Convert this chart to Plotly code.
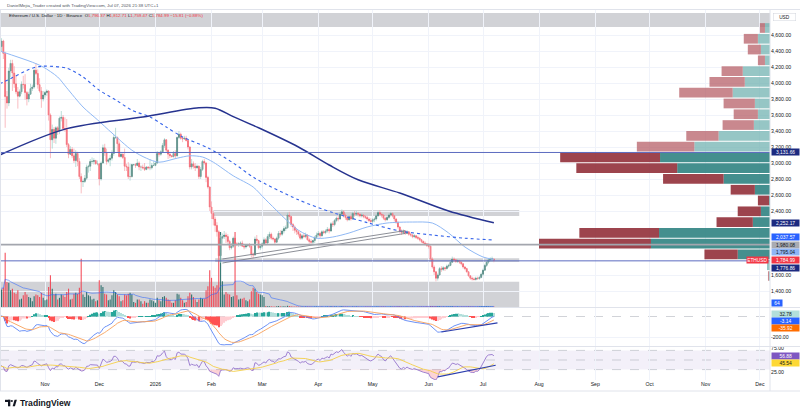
import numpy as np
import pandas as pd
import plotly.graph_objects as go

# ------------------------------------------------------------------ data
first_open = 4690.0
last_open = 1796.37

closes = [
    4455, 4525, 4370, 3830, 3750, 4150, 4245, 4125, 3990, 3890, 3835, 3890, 3985, 3980, 3880, 3800, 3860, 3930, 3950, 4160, 4120, 3980, 3900, 3800, 3850,
    3880, 3900, 3600, 3290, 3420, 3310, 3440, 3400, 3560, 3570, 3430, 3420, 3230, 3110, 3170, 3090, 3030, 3120, 3020, 2830, 2765, 2770, 2810, 2950, 2960, 3020, 3020, 3030, 2990, 2990,
    2800, 3000, 3190, 3130, 3020, 3040, 3060, 3120, 3320, 3320, 3240, 3080, 3110, 3070, 2960, 2950, 2830, 2830, 2980, 2980, 2970, 3000, 2950, 2950, 2940, 2920, 2950, 2940, 2940, 2970, 2970,
    3000, 3120, 3110, 3140, 3220, 3290, 3160, 3110, 3090, 3080, 3120, 3090, 3320, 3360, 3310, 3300, 3310, 3280, 3200, 2950, 2990, 2960, 2940, 2960, 2830, 2920, 3020, 3000, 2820, 2700, 2450,
    2370, 2300, 2220, 2140, 1840, 2060, 2080, 2100, 2080, 2020, 1940, 1960, 2060, 1990, 1980, 1990, 2000, 1960, 1950, 1970, 1980, 1960, 1860, 1850, 2050, 2030, 1940, 1960,
    1990, 2040, 2000, 2080, 2110, 2060, 2050, 2010, 2060, 2120, 2110, 2150, 2180, 2190, 2350, 2330, 2230, 2200, 2160, 2140, 2110, 2060, 2090, 2080, 2100, 2040, 2020, 2010, 2030, 2070, 2100,
    2120, 2090, 2140, 2130, 2150, 2170, 2150, 2240, 2230, 2280, 2310, 2300, 2360, 2390, 2350, 2320, 2290, 2330, 2300, 2370, 2360, 2370, 2360, 2340, 2350, 2330, 2320, 2300, 2280, 2270,
    2290, 2300, 2340, 2380, 2360, 2350, 2310, 2290, 2320, 2350, 2370, 2340, 2300, 2260, 2200, 2150, 2130, 2150, 2120, 2140, 2110, 2100, 2080, 2090, 2070, 2060, 2040, 2020, 2000, 1990, 1970,
    1960, 1800, 1700, 1640, 1560, 1600, 1680, 1670, 1690, 1680, 1710, 1720, 1760, 1800, 1790, 1770, 1780, 1760, 1740, 1700, 1680, 1640, 1590, 1560, 1550, 1545, 1560, 1555, 1570, 1610,
    1660, 1720, 1760, 1790, 1800, 1800.8, 1784.99,
]
highs = [
    4755, 4560, 4540, 4390, 3900, 4190, 4290, 4290, 4210, 4090, 3950, 3920, 4020, 4090, 4110, 3900, 3890, 3990, 3980, 4170, 4250, 4170, 4060, 3950, 3900,
    3900, 3920, 3910, 3620, 3480, 3450, 3460, 3460, 3580, 3650, 3600, 3570, 3550, 3250, 3210, 3200, 3180, 3160, 3140, 3060, 2870, 2790, 2850, 2980, 2980, 3050, 3070, 3060, 3040, 3030,
    3000, 3020, 3230, 3240, 3180, 3060, 3100, 3160, 3350, 3440, 3330, 3270, 3120, 3120, 3180, 2990, 3010, 2990, 2990, 2990, 3000, 3050, 3020, 2970, 2980, 3000, 2960, 2960, 3050, 3000, 3020,
    3010, 3150, 3140, 3160, 3250, 3310, 3300, 3170, 3140, 3100, 3150, 3160, 3330, 3400, 3380, 3330, 3340, 3340, 3280, 3210, 3050, 3020, 3000, 2980, 2970, 2950, 3040, 3050, 3010, 2840, 2710,
    2520, 2400, 2330, 2260, 2160, 2100, 2120, 2150, 2130, 2110, 2040, 2000, 2080, 2090, 2010, 2010, 2020, 2030, 1990, 1990, 1990, 2000, 1970, 1880, 2080, 2100, 2040, 1980,
    2010, 2070, 2060, 2110, 2140, 2130, 2080, 2060, 2080, 2150, 2160, 2170, 2210, 2220, 2380, 2390, 2340, 2250, 2220, 2180, 2160, 2130, 2110, 2120, 2130, 2110, 2060, 2050, 2040, 2090, 2130,
    2150, 2140, 2160, 2160, 2170, 2200, 2190, 2260, 2270, 2300, 2330, 2340, 2390, 2420, 2410, 2370, 2340, 2350, 2350, 2390, 2400, 2400, 2390, 2370, 2370, 2360, 2350, 2340, 2320, 2310,
    2310, 2320, 2360, 2400, 2410, 2380, 2360, 2330, 2340, 2370, 2390, 2380, 2350, 2310, 2270, 2210, 2170, 2170, 2160, 2160, 2150, 2130, 2110, 2110, 2100, 2090, 2070, 2050, 2030, 2020, 2000,
    2000, 1970, 1820, 1720, 1650, 1620, 1700, 1710, 1710, 1700, 1730, 1740, 1790, 1830, 1820, 1800, 1800, 1790, 1770, 1750, 1710, 1690, 1650, 1600, 1580, 1570, 1580, 1580, 1590, 1630,
    1680, 1740, 1780, 1810, 1820, 1830, 1812.71,
]
lows = [
    4450, 4400, 4300, 3440, 3680, 3710, 4070, 3900, 3940, 3860, 3680, 3820, 3860, 3930, 3790, 3720, 3760, 3850, 3900, 3930, 4100, 3930, 3880, 3690, 3770,
    3820, 3840, 3530, 3060, 3180, 3250, 3240, 3350, 3360, 3520, 3420, 3390, 3200, 3060, 3110, 3060, 3000, 2950, 2960, 2800, 2620, 2700, 2750, 2790, 2880, 2900, 2990, 2980, 2980, 2970,
    2720, 2780, 2990, 3090, 2980, 3000, 2960, 3030, 3090, 3300, 3140, 3070, 3070, 3050, 2900, 2900, 2800, 2780, 2820, 2960, 2940, 2960, 2910, 2900, 2920, 2900, 2910, 2920, 2910, 2920, 2960,
    2960, 2990, 3080, 3090, 3130, 3190, 3130, 3050, 3060, 3070, 3070, 3060, 3080, 3300, 3290, 3260, 3290, 3270, 3170, 2920, 2920, 2930, 2900, 2930, 2800, 2800, 2900, 2980, 2760, 2680, 2400,
    2300, 2220, 2140, 2080, 1780, 1750, 1990, 2050, 2000, 1990, 1910, 1920, 1940, 1960, 1960, 1950, 1960, 1950, 1920, 1930, 1950, 1940, 1820, 1810, 1840, 2000, 1920, 1910,
    1930, 1970, 1970, 1990, 2050, 2040, 2030, 1990, 2000, 2040, 2080, 2090, 2120, 2150, 2180, 2290, 2200, 2150, 2120, 2100, 2080, 2040, 2040, 2060, 2060, 2030, 1990, 1990, 1990, 2000, 2050,
    2080, 2060, 2080, 2110, 2110, 2130, 2120, 2140, 2200, 2210, 2260, 2270, 2290, 2340, 2320, 2290, 2270, 2280, 2280, 2290, 2330, 2340, 2330, 2320, 2320, 2310, 2300, 2280, 2260, 2250,
    2250, 2260, 2280, 2330, 2340, 2320, 2290, 2270, 2280, 2300, 2330, 2320, 2270, 2240, 2180, 2120, 2100, 2110, 2100, 2110, 2090, 2080, 2060, 2060, 2050, 2040, 2020, 2000, 1980, 1970, 1950,
    1930, 1780, 1680, 1600, 1520, 1530, 1590, 1640, 1650, 1650, 1670, 1690, 1710, 1750, 1760, 1750, 1750, 1740, 1720, 1680, 1660, 1630, 1580, 1540, 1530, 1530, 1530, 1540, 1540, 1560,
    1590, 1650, 1700, 1740, 1770, 1770, 1759.47,
]
volumes = [
    2400, 2100, 2300, 6500, 3000, 2900, 2000, 2200, 1700, 1600, 2000, 900, 1000, 1400, 1800, 1500, 1200, 1100, 700, 1300, 1500, 1400, 1200, 1700, 1100,
    800, 900, 2400, 3800, 2200, 1500, 1600, 900, 1100, 1500, 1400, 1200, 1800, 2200, 900, 1000, 1600, 1700, 1600, 2300, 5800, 1500, 1200, 1800, 1400, 1300, 900, 1000, 700, 800,
    3200, 2600, 2400, 1600, 1500, 800, 900, 1400, 2000, 1800, 1500, 1300, 700, 800, 1500, 1400, 1600, 1700, 1500, 600, 500, 900, 900, 700, 400, 700, 500, 500, 900, 800, 700,
    500, 1100, 800, 700, 1200, 1300, 1100, 900, 800, 500, 500, 800, 1600, 1500, 1100, 800, 500, 600, 1300, 1700, 1500, 1200, 900, 600, 900, 1100, 1000, 1000, 2000, 2500, 4400,
    3500, 2500, 2300, 2600, 9000, 9000, 3100, 1500, 1800, 1600, 1500, 1200, 1300, 9000, 1400, 900, 1000, 1000, 1100, 800, 700, 900, 1900, 2300, 2200, 1800, 1600, 1500,
    1400, 1200, 110, 90, 80, 100, 60, 50, 90, 120, 80, 70, 90, 60, 150, 110, 80, 70, 60, 50, 60, 70, 50, 60, 50, 70, 60, 50, 40, 50, 60,
    60, 50, 60, 40, 40, 60, 50, 80, 70, 60, 50, 40, 70, 80, 60, 50, 50, 40, 40, 60, 50, 60, 50, 40, 40, 40, 50, 50, 60, 50,
    50, 40, 60, 70, 60, 50, 60, 50, 40, 40, 50, 50, 60, 70, 90, 80, 60, 40, 50, 50, 50, 40, 50, 40, 40, 50, 60, 60, 70, 60, 80,
    70, 120, 110, 100, 130, 100, 90, 70, 60, 60, 60, 50, 70, 80, 60, 50, 50, 40, 50, 60, 50, 70, 80, 70, 60, 50, 40, 50, 60, 80,
    90, 80, 80, 70, 50, 60, 64,
]

ma_fast_dates = ["2025-10-07", "2025-10-25", "2025-10-31", "2025-11-08", "2025-11-13", "2025-11-22", "2025-11-30", "2025-12-08",
                 "2025-12-19", "2025-12-27", "2026-01-03", "2026-01-13", "2026-01-20", "2026-01-27", "2026-02-02", "2026-02-13",
                 "2026-02-24", "2026-03-03", "2026-03-21", "2026-03-31", "2026-04-09", "2026-04-18", "2026-04-28", "2026-05-09",
                 "2026-05-23", "2026-06-03", "2026-06-12", "2026-06-21", "2026-07-01", "2026-07-07"]
ma_fast_vals = [4400, 4260, 4200, 4075, 3940, 3700, 3540, 3375, 3160, 3060, 3010, 3060, 3090, 3075, 3010, 2840,
                2700, 2540, 2160, 2060, 2075, 2125, 2200, 2250, 2262, 2250, 2125, 1950, 1825, 1795.04]

ma_mid_dates = ["2025-10-07", "2025-10-09", "2025-10-25", "2025-10-31", "2025-11-13", "2025-11-22", "2025-12-01", "2025-12-10",
                "2025-12-19", "2025-12-29", "2026-01-07", "2026-01-16", "2026-01-30", "2026-02-13", "2026-02-25", "2026-03-21",
                "2026-04-09", "2026-04-28", "2026-05-16", "2026-06-03", "2026-06-21", "2026-07-07"]
ma_mid_vals = [3990, 4010, 4185, 4210, 4185, 4075, 3910, 3790, 3660, 3575, 3450, 3325, 3190, 3000, 2810, 2540,
               2380, 2255, 2150, 2100, 2060, 2037.57]

ma_slow_dates = ["2025-10-07", "2025-11-13", "2025-12-25", "2026-01-25", "2026-02-03", "2026-02-13", "2026-02-27",
                 "2026-03-21", "2026-04-07", "2026-04-23", "2026-05-16", "2026-06-12", "2026-07-07"]
ma_slow_vals = [3100, 3430, 3575, 3690, 3685, 3580, 3440, 3200, 2975, 2790, 2625, 2400, 2252.17]

# horizontal levels
level_blue_top = 3131.66
level_gray = 1980.08
level_blue_low = 1776.86

# zones (price boxes): (start, end, low, high)
zones = [
    ("2025-10-01", "2026-12-31", 4700, 4875),
    ("2026-02-02", "2026-07-21", 2337, 2412),
    ("2026-02-03", "2026-07-21", 1762, 1810),
    ("2025-10-01", "2026-07-21", 1100, 1516),
]
# wedge lines (date0, price0, date1, price1)
wedge = [("2026-02-07", 1750, "2026-05-19", 2120), ("2026-02-07", 1800, "2026-05-19", 2155)]
# divergence lines
macd_div = (["2026-06-08", "2026-07-09"], [-151, -63])
rsi_div = (["2026-06-06", "2026-07-08"], [15, 39])

# visible-range volume profile, rows top -> bottom (24 rows)
vp_down = [5, 14, 13, 7, 21, 35, 53, 31, 24, 31, 32, 57, 99, 100, 60, 24, 11, 23, 36, 79, 111, 33, 0, 1]
vp_up = [5, 12, 9, 5, 27, 25, 37, 15, 12, 16, 51, 75, 109, 92, 46, 15, 1, 9, 17, 110, 118, 32, 3, 1]
vp_in_value_area = [0] * 12 + [1] * 10 + [0] * 2

price_ticks = [1400, 1600, 2400, 2600, 2800, 3000, 3200, 3400, 3600, 3800, 4000, 4200, 4400, 4600]
month_ticks = ["2025-11-01", "2025-12-01", "2026-01-01", "2026-02-01", "2026-03-01", "2026-04-01", "2026-05-01",
               "2026-06-01", "2026-07-01", "2026-08-01", "2026-09-01", "2026-10-01", "2026-11-01", "2026-12-01"]
month_labels = ["Nov", "Dec", "2026", "Feb", "Mar", "Apr", "May", "Jun", "Jul", "Aug", "Sep", "Oct", "Nov", "Dec"]

last_macd, last_signal, last_hist = -3.14, -35.92, 32.78
last_rsi, last_rsi_ma = 56.88, 45.54
last_vol_label = 64

# ------------------------------------------------------------------ derived
assert len(closes) == len(highs) == len(lows) == len(volumes) == 274
dates = pd.date_range("2025-10-07", periods=len(closes), freq="D")
opens = [first_open] + closes[:-1]
opens[-1] = last_open
up = [c >= o for o, c in zip(opens, closes)]

c = pd.Series(closes, dtype=float)
macd = c.ewm(span=12, adjust=False).mean() - c.ewm(span=26, adjust=False).mean()
signal = macd.ewm(span=9, adjust=False).mean()
hist = macd - signal

d = c.diff().fillna(0).values
g = np.clip(d, 0, None)
l = np.clip(-d, 0, None)
ag, al = g[1:15].mean(), l[1:15].mean()
rsi = []
for i in range(len(d)):
    if i > 0:
        ag = (ag * 13 + g[i]) / 14
        al = (al * 13 + l[i]) / 14
    rsi.append(100 - 100 / (1 + ag / al) if al > 0 else 100)
rsi = pd.Series(rsi)
rsi_ma = rsi.rolling(14, min_periods=1).mean()
vol_ma = pd.Series(volumes, dtype=float).rolling(20, min_periods=1).mean()

# ------------------------------------------------------------------ style
W, H = 800, 415
FONT = "Liberation Sans, Arial, sans-serif"
UP_C, DN_C = "#17524c", "#f23645"
UP_W, DN_W = "#9ccfc7", "#f7a1a8"
PLOT_R = 770 / W


def dom(top_px, bot_px):
    return [1 - bot_px / H, 1 - top_px / H]


def py(px):
    return 1 - px / H


MAIN = dom(10, 307)
MACD_D = dom(308, 346)
RSI_D = dom(347, 380)

nov1 = pd.Timestamp("2025-11-01")
x_start = nov1 - pd.Timedelta(days=24.86)
x_end = nov1 + pd.Timedelta(days=400.55)
DAY = 86400000

fig = go.Figure()

# volume (base subplot x/y)
fig.add_trace(go.Bar(x=dates, y=volumes, width=0.62 * DAY,
                     marker=dict(color=["rgba(23,100,94,0.85)" if u else "rgba(242,54,69,0.85)" for u in up], line_width=0),
                     xaxis="x", yaxis="y", hoverinfo="skip"))
fig.add_trace(go.Scatter(x=dates, y=vol_ma, mode="lines", line=dict(color="rgba(41,98,255,0.6)", width=0.9),
                         xaxis="x", yaxis="y", hoverinfo="skip"))

# wicks
for mask, col in ((up, UP_W), ([not u for u in up], DN_W)):
    xs, ys = [], []
    for dt, h_, l_, m in zip(dates, highs, lows, mask):
        if m:
            xs += [dt, dt, None]
            ys += [h_, l_, None]
    fig.add_trace(go.Scatter(x=xs, y=ys, mode="lines", line=dict(color=col, width=0.7),
                             xaxis="x", yaxis="y2", hoverinfo="skip"))

# candle bodies
body_hi = [max(o, c_) for o, c_ in zip(opens, closes)]
body_lo = [min(o, c_) for o, c_ in zip(opens, closes)]
fig.add_trace(go.Candlestick(x=dates, open=opens, high=body_hi, low=body_lo, close=closes,
                             increasing=dict(line=dict(color=UP_C, width=0.6), fillcolor=UP_C),
                             decreasing=dict(line=dict(color=DN_C, width=0.6), fillcolor=DN_C),
                             whiskerwidth=0, xaxis="x", yaxis="y2", hoverinfo="skip"))

# moving averages
fig.add_trace(go.Scatter(x=ma_fast_dates, y=ma_fast_vals, mode="lines", line=dict(color="#90b9f5", width=1, shape="spline", smoothing=0.8),
                         xaxis="x", yaxis="y2", hoverinfo="skip"))
fig.add_trace(go.Scatter(x=ma_mid_dates, y=ma_mid_vals, mode="lines", line=dict(color="#3563e9", width=1.1, dash="dot", shape="spline", smoothing=0.8),
                         xaxis="x", yaxis="y2", hoverinfo="skip"))
fig.add_trace(go.Scatter(x=ma_slow_dates, y=ma_slow_vals, mode="lines", line=dict(color="#26338f", width=1.5, shape="spline", smoothing=0.9),
                         xaxis="x", yaxis="y2", hoverinfo="skip"))

# wedge lines
for d0, p0, d1, p1 in wedge:
    fig.add_trace(go.Scatter(x=[d0, d1], y=[p0, p1], mode="lines", line=dict(color="#7f828b", width=0.9),
                             xaxis="x", yaxis="y2", hoverinfo="skip"))

# volume profile (x2 / y2)
vp_high, vp_low = max(highs), min(lows)
n_rows = len(vp_up)
row_h = (vp_high - vp_low) / n_rows
centers = [vp_high - (i + 0.5) * row_h for i in range(n_rows)]
max_tot = max(u + d_ for u, d_ in zip(vp_up, vp_down))
fig.add_trace(go.Bar(x=vp_up, y=centers, base=0, orientation="h", width=row_h * 0.9,
                     marker=dict(color=["rgba(42,128,126,0.88)" if v else "rgba(110,176,174,0.72)" for v in vp_in_value_area], line_width=0),
                     xaxis="x2", yaxis="y2", hoverinfo="skip"))
fig.add_trace(go.Bar(x=vp_down, y=centers, base=vp_up, orientation="h", width=row_h * 0.9,
                     marker=dict(color=["rgba(140,35,46,0.85)" if v else "rgba(180,90,98,0.72)" for v in vp_in_value_area], line_width=0),
                     xaxis="x2", yaxis="y2", hoverinfo="skip"))

# MACD pane
hcols = []
prev = 0
for hv in hist:
    if hv >= 0:
        hcols.append("#26a69a" if hv >= prev else "#b2dfdb")
    else:
        hcols.append("#ff5252" if hv < prev else "#ffcdd2")
    prev = hv
fig.add_trace(go.Bar(x=dates, y=hist, width=0.62 * DAY, marker=dict(color=hcols, line_width=0),
                     xaxis="x3", yaxis="y3", hoverinfo="skip"))
fig.add_trace(go.Scatter(x=dates, y=macd, mode="lines", line=dict(color="#5b84f5", width=0.9), xaxis="x3", yaxis="y3", hoverinfo="skip"))
fig.add_trace(go.Scatter(x=dates, y=signal, mode="lines", line=dict(color="#f7a15c", width=0.9), xaxis="x3", yaxis="y3", hoverinfo="skip"))
fig.add_trace(go.Scatter(x=macd_div[0], y=macd_div[1], mode="lines", line=dict(color="#2c3fae", width=1.2), xaxis="x3", yaxis="y3", hoverinfo="skip"))

# RSI pane
fig.add_trace(go.Scatter(x=dates, y=[30] * len(dates), mode="lines", line=dict(width=0), xaxis="x4", yaxis="y4", hoverinfo="skip"))
fig.add_trace(go.Scatter(x=dates, y=np.minimum(rsi, 30), mode="lines", line=dict(width=0), fill="tonexty",
                         fillcolor="rgba(242,54,69,0.22)", xaxis="x4", yaxis="y4", hoverinfo="skip"))
fig.add_trace(go.Scatter(x=dates, y=rsi, mode="lines", line=dict(color="#9575cd", width=0.9), xaxis="x4", yaxis="y4", hoverinfo="skip"))
fig.add_trace(go.Scatter(x=dates, y=rsi_ma, mode="lines", line=dict(color="#f4cf48", width=0.9), xaxis="x4", yaxis="y4", hoverinfo="skip"))
fig.add_trace(go.Scatter(x=rsi_div[0], y=rsi_div[1], mode="lines", line=dict(color="#2c3fae", width=1.2), xaxis="x4", yaxis="y4", hoverinfo="skip"))

# ------------------------------------------------------------------ shapes
shapes = []
for z0, z1, lo, hi in zones:
    shapes.append(dict(type="rect", xref="x", yref="y2", x0=z0, x1=z1, y0=lo, y1=hi,
                       fillcolor="rgba(120,123,134,0.34)", line_width=0, layer="below"))
for lvl, col, wd in ((level_blue_top, "#5c6bc0", 1), (level_blue_low, "#5c6bc0", 1), (level_gray, "#a3a6ae", 1.6)):
    shapes.append(dict(type="line", xref="paper", yref="y2", x0=0, x1=PLOT_R, y0=lvl, y1=lvl,
                       line=dict(color=col, width=wd), layer="above"))
shapes.append(dict(type="line", xref="paper", yref="y3", x0=0, x1=PLOT_R, y0=0, y1=0,
                   line=dict(color="#b2b5be", width=0.6, dash="dash"), layer="below"))
shapes.append(dict(type="rect", xref="paper", yref="y4", x0=0, x1=PLOT_R, y0=30, y1=70,
                   fillcolor="rgba(126,87,194,0.09)", line_width=0, layer="below"))
for lv in (70, 50, 30):
    shapes.append(dict(type="line", xref="paper", yref="y4", x0=0, x1=PLOT_R, y0=lv, y1=lv,
                       line=dict(color="#b2b5be", width=0.6, dash="dash"), layer="below"))
# frame / pane separators
FR = "#e0e3eb"
for ypx in (9.5, 307.5, 346.5, 391):
    shapes.append(dict(type="line", xref="paper", yref="paper", x0=0, x1=1, y0=py(ypx), y1=py(ypx), line=dict(color=FR, width=1)))
shapes.append(dict(type="line", xref="paper", yref="paper", x0=PLOT_R, x1=PLOT_R, y0=py(391), y1=py(9.5), line=dict(color=FR, width=1)))
shapes.append(dict(type="line", xref="paper", yref="paper", x0=0.5 / W, x1=0.5 / W, y0=py(391), y1=py(9.5), line=dict(color=FR, width=1)))
# TradingView logo glyph
LG = "#131722"
shapes.append(dict(type="rect", xref="paper", yref="paper", x0=5 / W, x1=10.3 / W, y0=py(402), y1=py(399.8), fillcolor=LG, line_width=0))
shapes.append(dict(type="rect", xref="paper", yref="paper", x0=8 / W, x1=10.3 / W, y0=py(406.3), y1=py(399.8), fillcolor=LG, line_width=0))
shapes.append(dict(type="circle", xref="paper", yref="paper", x0=10.9 / W, x1=12.9 / W, y0=py(402), y1=py(400), fillcolor=LG, line_width=0))
shapes.append(dict(type="path", xref="paper", yref="paper",
                   path=f"M {12.6/W},{py(406.3)} L {14.6/W},{py(399.8)} L {16.9/W},{py(399.8)} L {14.9/W},{py(406.3)} Z",
                   fillcolor=LG, line_width=0))

# ------------------------------------------------------------------ annotations
ann = []


def tag(text, yref, yval, bg, fg, shift=0, width=27):
    ann.append(dict(text=text, xref="paper", x=771 / W, xanchor="left", yref=yref, y=yval, yanchor="middle",
                    yshift=shift, showarrow=False, bgcolor=bg, borderpad=0.2, width=width, height=6, align="center",
                    font=dict(color=fg, size=4.9, family=FONT)))


tag(f"{level_blue_top:,.2f}", "y2", level_blue_top, "#1c2a80", "white")
tag(f"{ma_slow_vals[-1]:,.2f}", "y2", ma_slow_vals[-1], "#1c2a80", "white")
tag(f"{ma_mid_vals[-1]:,.2f}", "y2", ma_mid_vals[-1], "#2962ff", "white", shift=3)
tag(f"{level_gray:,.2f}", "y2", level_gray, "#a9abb2", "#131722", shift=-0.5)
tag(f"{ma_fast_vals[-1]:,.2f}", "y2", ma_fast_vals[-1], "#8fb5f5", "#131722", shift=7)
tag(f"{closes[-1]:,.2f}", "y2", closes[-1], "#f23645", "white")
tag(f"{level_blue_low:,.2f}", "y2", level_blue_low, "#1c2a80", "white", shift=-6.8)
tag(f"{last_vol_label}", "y", last_vol_label, "#2962ff", "white", shift=3.5, width=10)
tag(f"{last_hist:.2f}", "y3", last_hist, "#b2dfdb", "#131722", shift=-0.9)
tag(f"{last_macd:.2f}", "y3", last_macd, "#2962ff", "white", shift=-4.2)
tag(f"{last_signal:.2f}", "y3", last_signal, "#ff6d00", "white", shift=-8.2)
tag(f"{last_rsi:.2f}", "y4", last_rsi, "#7e57c2", "white", shift=0.5)
tag(f"{last_rsi_ma:.2f}", "y4", last_rsi_ma, "#fdd835", "#131722", shift=-1.2)

ann.append(dict(text="ETHUSD", xref="paper", x=769 / W, xanchor="right", yref="y2", y=closes[-1], yanchor="middle",
                showarrow=False, bgcolor="#f23645", borderpad=0.2, height=6, font=dict(color="white", size=4.8, family=FONT)))
ann.append(dict(text="USD", xref="paper", x=773 / W, xanchor="left", yref="paper", y=py(17), yanchor="middle",
                showarrow=False, bgcolor="white", bordercolor="#d1d4dc", borderwidth=0.5, borderpad=1, width=20,
                font=dict(color="#131722", size=4.8, family=FONT)))
ann.append(dict(text="DanielMejia_Trader created with TradingView.com, Jul 07, 2026 21:38 UTC+1",
                xref="paper", x=5 / W, xanchor="left", yref="paper", y=py(5), yanchor="middle", showarrow=False,
                font=dict(color="#50535e", size=4.4, family=FONT)))
chg = closes[-1] - (closes[-2])
pct = chg / closes[-2] * 100
R = "#f23645"
legend = (f"Ethereum / U.S. Dollar · 1D · Binance  "
          f"O<span style='color:{R}'>{opens[-1]:,.2f}</span> H<span style='color:{R}'>{highs[-1]:,.2f}</span> "
          f"L<span style='color:{R}'>{lows[-1]:,.2f}</span> C<span style='color:{R}'>{closes[-1]:,.2f}</span> "
          f"<span style='color:{R}'>{chg:+.2f} ({pct:+.2f}%)</span>").replace("-", "−")
ann.append(dict(text=legend, xref="paper", x=7 / W, xanchor="left", yref="paper", y=py(16), yanchor="middle",
                showarrow=False, font=dict(color="#131722", size=4.4, family=FONT)))
ann.append(dict(text="<b>TradingView</b>", xref="paper", x=17.5 / W, xanchor="left", yref="paper", y=py(403.2), yanchor="middle",
                showarrow=False, font=dict(color=LG, size=8.6, family=FONT)))

# ------------------------------------------------------------------ layout
GRID = "#f0f3fa"
xcommon = dict(type="date", range=[x_start, x_end], tickvals=month_ticks, showgrid=True, gridcolor=GRID,
               gridwidth=1, zeroline=False, showline=False, ticks="", automargin=False, domain=[0, PLOT_R])
fig.update_layout(
    width=W, height=H, margin=dict(l=0, r=0, t=0, b=0, pad=0),
    paper_bgcolor="white", plot_bgcolor="white", showlegend=False, barmode="overlay",
    font=dict(family=FONT, size=5.2, color="#131722"),
    xaxis=dict(**xcommon, anchor="y", showticklabels=False, rangeslider=dict(visible=False)),
    xaxis2=dict(overlaying="x", anchor="y2", range=[max_tot / 0.3, 0], visible=False, showgrid=False),
    xaxis3=dict(**xcommon, anchor="y3", matches="x", showticklabels=False),
    xaxis4=dict(**xcommon, anchor="y4", matches="x", showticklabels=True, ticktext=month_labels,
                tickfont=dict(size=5.2, color="#131722", family=FONT)),
    yaxis=dict(domain=MAIN, range=[0, 35640], visible=False, fixedrange=True),
    yaxis2=dict(overlaying="y", anchor="x", side="right", range=[1200, 4912.5], tickvals=price_ticks,
                ticktext=[f"{v:,.2f}" for v in price_ticks], showgrid=True, gridcolor=GRID, zeroline=False,
                showline=False, ticks="", automargin=False, tickfont=dict(size=5.2, color="#131722", family=FONT)),
    yaxis3=dict(domain=MACD_D, anchor="x3", side="right", range=[-287.8, 82.9], tickvals=[-200], ticktext=["-200.00"],
                showgrid=True, gridcolor=GRID, zeroline=False, showline=False, ticks="", automargin=False,
                tickfont=dict(size=5.2, color="#131722", family=FONT)),
    yaxis4=dict(domain=RSI_D, anchor="x4", side="right", range=[8.3, 77.1], tickvals=[25, 75], ticktext=["25.00", "75.00"],
                showgrid=False, zeroline=False, showline=False, ticks="", automargin=False,
                tickfont=dict(size=5.2, color="#131722", family=FONT)),
    shapes=shapes, annotations=ann,
)

fig.write_html("out.html")
